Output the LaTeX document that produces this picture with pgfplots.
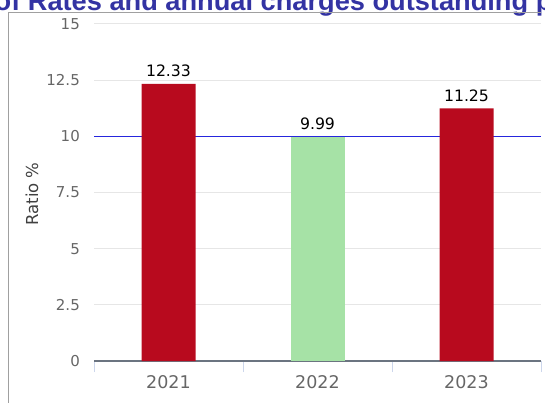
\documentclass[border=0pt]{standalone}
\usepackage{pgfplots}
\pgfplotsset{compat=1.18}
\usepackage{fontspec}
\setmainfont{DejaVu Sans}
\newfontfamily\titlefont{Liberation Sans}
\definecolor{barred}{HTML}{B80A1E}
\definecolor{bargreen}{HTML}{A6E2A6}
\definecolor{refblue}{HTML}{2626DD}
\definecolor{titleblue}{HTML}{3333A3}
\definecolor{gridgray}{HTML}{E6E6E6}
\definecolor{axisgray}{HTML}{6B7480}
\definecolor{tickcol}{HTML}{CCD6EB}
\definecolor{labelgray}{HTML}{666666}
\definecolor{framegray}{HTML}{A0A0A0}
\pgfplotstableread{
x y
0 12.33
2 11.25
}\redbars
\pgfplotstableread{
x y
1 9.99
}\greenbars
\begin{document}
\begin{tikzpicture}
\path[use as bounding box] (0,0) rectangle (545pt,402pt);
\clip (0,0) rectangle (545pt,402pt);
\node[anchor=base west, inner sep=0pt, text=titleblue, font=\titlefont\bfseries\fontsize{27.2}{31}\selectfont] at (-5.5pt,391pt) {of Rates and annual charges outstanding percentage};
\draw[framegray, line width=1.5pt] (8.7pt,-2pt) -- (8.7pt,389.5pt) -- (541pt,389.5pt);
\begin{axis}[
  at={(94pt,41pt)}, anchor=south west,
  scale only axis, width=447pt, height=337pt,
  xmin=-0.5, xmax=2.5, ymin=0, ymax=15,
  /pgf/number format/assume math mode=true,
  axis x line*=bottom, axis y line*=left,
  x axis line style={-, draw=axisgray, line width=1.3pt},
  y axis line style={draw=none},
  ytick={0,2.5,5,7.5,10,12.5,15},
  ytick style={draw=none},
  ymajorgrids, grid style={draw=gridgray, line width=1pt},
  yticklabel style={anchor=east, inner sep=0pt, xshift=-14pt, text=labelgray, font=\fontsize{15}{18}\selectfont},
  xtick={-0.5,0.5,1.5,2.5},
  xticklabels={2021,2022,2023,{}},
  xtick align=outside, major tick length=11pt,
  xtick style={draw=tickcol, line width=1pt},
  xticklabel style={anchor=base, xshift=74.5pt, yshift=-16pt, text=labelgray, font=\fontsize{17.5}{20}\selectfont},
  ylabel={Ratio \%},
  ylabel style={at={(axis description cs:-0.1387,0.4955)}, anchor=center, text=black!75, font=\fontsize{16.5}{19}\selectfont},
  every node near coord/.append style={anchor=base, yshift=7pt, text=black, font=\fontsize{15.7}{18}\selectfont},
]
\addplot[draw=refblue, line width=1.3pt] coordinates {(-0.5,10) (2.5,10)};
\addplot[ybar, bar shift=0pt, bar width=54pt, fill=barred, draw=none, nodes near coords] table[x=x,y=y] {\redbars};
\addplot[ybar, bar shift=0pt, bar width=54pt, fill=bargreen, draw=none, nodes near coords] table[x=x,y=y] {\greenbars};
\end{axis}
\end{tikzpicture}
\end{document}
